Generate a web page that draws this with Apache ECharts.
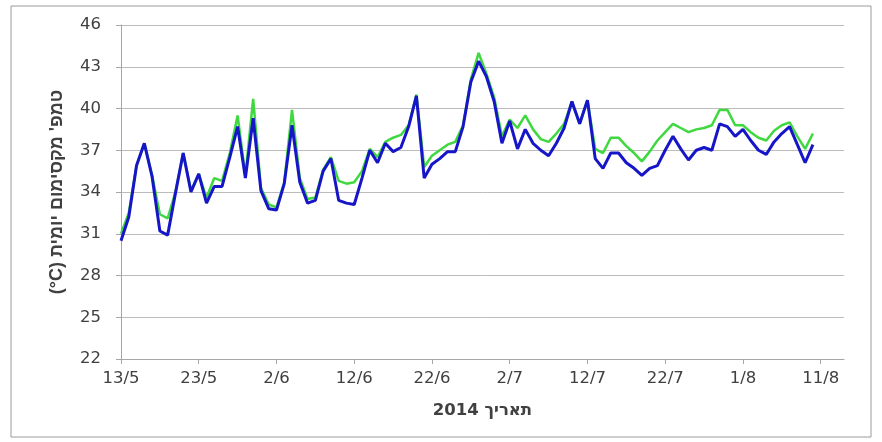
<!DOCTYPE html>
<html>
<head>
<meta charset="utf-8">
<script src="https://cdn.jsdelivr.net/npm/echarts@6/dist/echarts.min.js"></script>
<style>
  html, body { margin: 0; padding: 0; background: #ffffff; }
  #chart { width: 882px; height: 442px; }
</style>
</head>
<body>
<div id="chart"></div>
<script>
// ---- data ----
const dates = [
  '13/5','14/5','15/5','16/5','17/5','18/5','19/5','20/5','21/5','22/5',
  '23/5','24/5','25/5','26/5','27/5','28/5','29/5','30/5','31/5',
  '1/6','2/6','3/6','4/6','5/6','6/6','7/6','8/6','9/6','10/6','11/6',
  '12/6','13/6','14/6','15/6','16/6','17/6','18/6','19/6','20/6','21/6',
  '22/6','23/6','24/6','25/6','26/6','27/6','28/6','29/6','30/6',
  '1/7','2/7','3/7','4/7','5/7','6/7','7/7','8/7','9/7','10/7','11/7',
  '12/7','13/7','14/7','15/7','16/7','17/7','18/7','19/7','20/7','21/7',
  '22/7','23/7','24/7','25/7','26/7','27/7','28/7','29/7','30/7','31/7',
  '1/8','2/8','3/8','4/8','5/8','6/8','7/8','8/8','9/8','10/8',
  '11/8','12/8','13/8','14/8'
];

const greenTemps = [
  31.0, 32.5, 35.9, 37.5, 35.2, 32.4, 32.1, 34.0, 36.8, 34.1,
  35.3, 33.6, 35.0, 34.8, 36.8, 39.5, 35.2, 40.7, 34.3, 33.1,
  32.9, 34.7, 39.9, 35.0, 33.5, 33.6, 35.6, 36.5, 34.8, 34.6,
  34.7, 35.5, 37.1, 36.5, 37.6, 37.9, 38.1, 38.8, 41.0, 35.8,
  36.6, 37.0, 37.4, 37.6, 38.8, 42.1, 44.0, 42.5, 40.8, 38.0,
  39.2, 38.6, 39.5, 38.5, 37.8, 37.6, 38.2, 38.9, 40.5, 38.9,
  40.6, 37.1, 36.8, 37.9, 37.9, 37.3, 36.8, 36.2, 36.9, 37.7,
  38.3, 38.9, 38.6, 38.3, 38.5, 38.6, 38.8, 39.9, 39.9, 38.8,
  38.8, 38.3, 37.9, 37.7, 38.4, 38.8, 39.0, 38.0, 37.1, 38.2
];

const blueTemps = [
  30.5, 32.2, 35.9, 37.5, 35.1, 31.2, 30.9, 33.9, 36.8, 34.0,
  35.3, 33.2, 34.4, 34.4, 36.5, 38.7, 35.0, 39.3, 34.1, 32.8,
  32.7, 34.6, 38.8, 34.7, 33.2, 33.4, 35.5, 36.4, 33.4, 33.2,
  33.1, 35.0, 37.0, 36.1, 37.5, 36.9, 37.2, 38.7, 40.9, 35.0,
  36.0, 36.4, 36.9, 36.9, 38.7, 41.9, 43.4, 42.3, 40.5, 37.5,
  39.1, 37.1, 38.5, 37.5, 37.0, 36.6, 37.5, 38.6, 40.5, 38.9,
  40.6, 36.4, 35.7, 36.8, 36.8, 36.1, 35.7, 35.2, 35.7, 35.9,
  37.0, 38.0, 37.1, 36.3, 37.0, 37.2, 37.0, 38.9, 38.7, 38.0,
  38.5, 37.7, 37.0, 36.7, 37.6, 38.2, 38.7, 37.4, 36.1, 37.4
];

const yMin = 22;
const yMax = 46;
const yStep = 3;
const xTitle = '2014 תאריך';
const yTitle = "(°C) טמפ' מקסימום יומית";

// ---- chart ----
const FONT = "'DejaVu Sans', 'Open Sans', sans-serif";
const TITLE_FONT = "'Liberation Sans', Arial, 'DejaVu Sans', sans-serif";
const chart = echarts.init(document.getElementById('chart'), null, { renderer: 'canvas' });
chart.setOption({
  animation: false,
  backgroundColor: '#ffffff',
  grid: { left: 121, right: 38, top: 25, bottom: 83, containLabel: false },
  graphic: [{
    type: 'rect',
    shape: { x: 11, y: 6, width: 860, height: 431 },
    style: { fill: 'none', stroke: '#9a9a9a', lineWidth: 1 },
    silent: true
  }],
  xAxis: {
    type: 'category',
    data: dates,
    boundaryGap: false,
    name: xTitle,
    nameLocation: 'middle',
    nameGap: 43,
    nameTextStyle: { fontSize: 16.5, fontWeight: 'bold', color: '#404040', fontFamily: "'DejaVu Sans', sans-serif" },
    axisLine: { show: true, lineStyle: { color: '#a6a6a6', width: 1 } },
    axisTick: { show: true, interval: 9, length: 5, inside: false, lineStyle: { color: '#a6a6a6' } },
    axisLabel: { interval: 9, fontSize: 16.5, color: '#404040', margin: 11, fontFamily: FONT },
    splitLine: { show: false }
  },
  yAxis: {
    type: 'value',
    min: yMin,
    max: yMax,
    interval: yStep,
    name: yTitle,
    nameLocation: 'middle',
    nameRotate: 90,
    nameGap: 55,
    nameTextStyle: { fontSize: 18, fontWeight: 'bold', color: '#404040', fontFamily: TITLE_FONT },
    axisLine: { show: true, lineStyle: { color: '#a6a6a6', width: 1 } },
    axisTick: { show: true, length: 5, inside: false, lineStyle: { color: '#a6a6a6' } },
    axisLabel: { fontSize: 16.5, color: '#404040', margin: 20, fontFamily: FONT },
    splitLine: { show: true, lineStyle: { color: '#bcbcbc', width: 1 } }
  },
  series: [
    {
      name: 'green',
      type: 'line',
      data: greenTemps,
      symbol: 'none',
      smooth: false,
      lineStyle: { color: '#3fd83f', width: 2.5 },
      itemStyle: { color: '#3fd83f' },
      z: 2
    },
    {
      name: 'blue',
      type: 'line',
      data: blueTemps,
      symbol: 'none',
      smooth: false,
      lineStyle: { color: '#1616c8', width: 3 },
      itemStyle: { color: '#1616c8' },
      z: 3
    }
  ]
});
</script>
</body>
</html>
